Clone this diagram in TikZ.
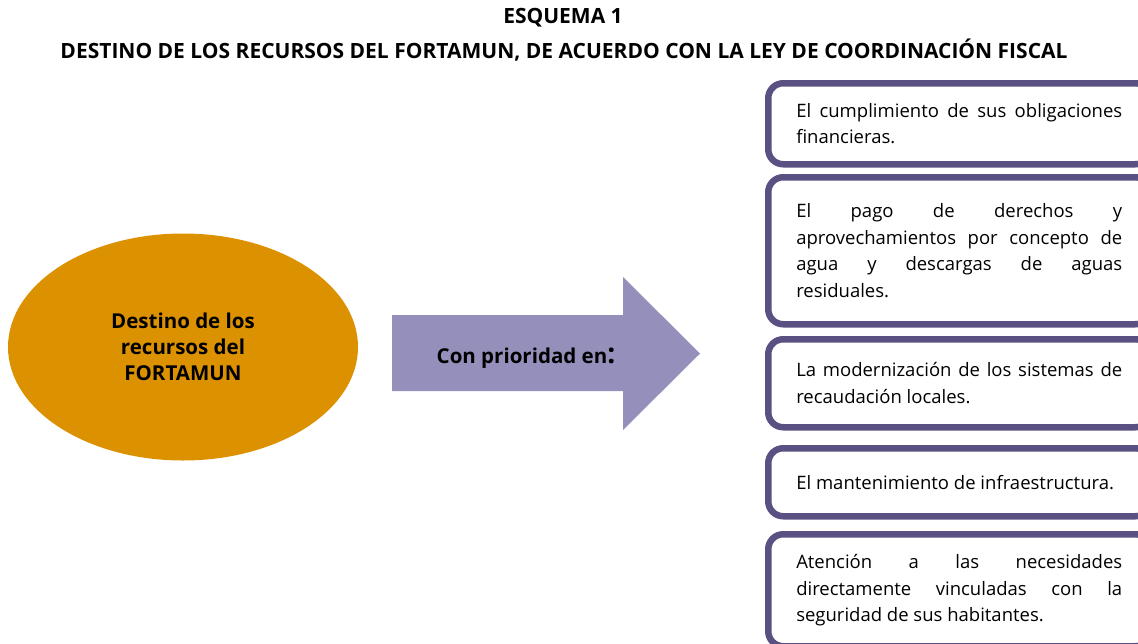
\documentclass[tikz,border=0pt]{standalone}
\usepackage{fontspec}
\setmainfont{Open Sans}
\usetikzlibrary{shapes.geometric}

\definecolor{naranja}{HTML}{DC9200}
\definecolor{morado}{HTML}{5A5182}
\definecolor{lila}{HTML}{958FBB}

% text of the boxes: no hyphens, stretch freely
\newcommand{\cajafmt}{\fontsize{18.5}{26.5}\selectfont\hyphenpenalty=10000\relax\tolerance=10000\relax}

\begin{document}
\begin{tikzpicture}[
        x=1pt, y=-1pt,
        caja/.style={draw=morado, line width=6.5pt, rounded corners=15pt, fill=white,
            anchor=north west, text width=326pt, align=justify,
            inner xsep=28pt, inner ysep=4pt, font=\cajafmt},
        titulo/.style={font=\bfseries\fontsize{21}{24}\selectfont}
    ]

    \useasboundingbox (0,0) rectangle (1138,643);
    \clip (0,0) rectangle (1138,643);

    % --- Title ---
    \node[titulo] (esquema) at (563,18) {ESQUEMA 1};
    \node[titulo] (destino) at (564,50) {DESTINO DE LOS RECURSOS DEL FORTAMUN, DE ACUERDO CON LA LEY DE COORDINACIÓN FISCAL};

    % --- Left ellipse ---
    \node[ellipse, fill=naranja, inner sep=0pt, minimum width=350pt, minimum height=227pt,
        align=center, font=\bfseries\fontsize{20.5}{26}\selectfont] (fortamun) at (183,347)
        {Destino de los\\recursos del\\FORTAMUN};

    % --- Arrow ---
    \fill[lila] (392,315) -- (623,315) -- (623,277) -- (700,353.5) -- (623,430)
        -- (623,391) -- (392,391) -- cycle;
    \node[font=\bfseries\fontsize{20.5}{22}\selectfont] (prioridad) at (526,358)
        {Con prioridad en{\fontsize{28}{28}\selectfont:}};

    % --- Boxes on the right ---
    \node[caja, minimum height=81pt] (op1) at (765,80)
        {El cumplimiento de sus obligaciones\linebreak financieras.};
    \node[caja, minimum height=147pt] (op2) at (765,174)
        {El pago de derechos y\linebreak aprovechamientos por concepto de\linebreak agua y descargas de aguas\linebreak residuales.};
    \node[caja, minimum height=88pt] (op3) at (765,336)
        {La modernización de los sistemas de\linebreak recaudación locales.};
    \node[caja, minimum height=68pt] (op4) at (765,445)
        {El mantenimiento de infraestructura.};
    \node[caja, minimum height=112pt] (op5) at (765,531)
        {Atención a las necesidades\linebreak directamente vinculadas con la\linebreak seguridad de sus habitantes.};

\end{tikzpicture}
\end{document}
